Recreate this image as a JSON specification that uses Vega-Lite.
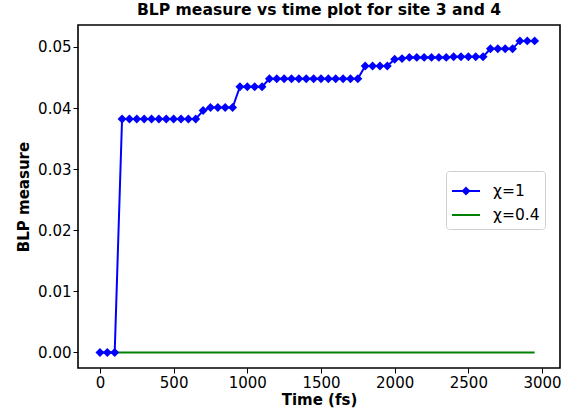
{
  "$schema": "https://vega.github.io/schema/vega-lite/v6.json",
  "width": 482,
  "height": 343,
  "autosize": {"type": "none"},
  "padding": {"left": 78, "top": 25, "right": 11, "bottom": 44},
  "background": "white",
  "config": {
    "font": "DejaVu Sans",
    "view": {"stroke": "black", "strokeWidth": 1.6},
    "axis": {"grid": false, "domain": false, "tickColor": "black", "tickSize": 5, "tickWidth": 1, "labelColor": "black", "labelFontSize": 15, "titleFontSize": 15, "titleFontWeight": "bold", "titleColor": "black", "labelFont": "DejaVu Sans", "titleFont": "DejaVu Sans"}
  },
  "title": {"text": "BLP measure vs time plot for site 3 and 4", "fontSize": 15.6, "fontWeight": "bold", "font": "DejaVu Sans", "color": "black", "offset": 6},
  "datasets": {
    "blue": [
      {"t": 0, "v": 0}, {"t": 50, "v": 0}, {"t": 100, "v": 0},
      {"t": 150, "v": 0.0382}, {"t": 200, "v": 0.0382}, {"t": 250, "v": 0.0382}, {"t": 300, "v": 0.0382}, {"t": 350, "v": 0.0382}, {"t": 400, "v": 0.0382}, {"t": 450, "v": 0.0382}, {"t": 500, "v": 0.0382}, {"t": 550, "v": 0.0382}, {"t": 600, "v": 0.0382}, {"t": 650, "v": 0.0382},
      {"t": 700, "v": 0.0396},
      {"t": 750, "v": 0.0401}, {"t": 800, "v": 0.0401}, {"t": 850, "v": 0.0401}, {"t": 900, "v": 0.0401},
      {"t": 950, "v": 0.0435}, {"t": 1000, "v": 0.0435}, {"t": 1050, "v": 0.0435}, {"t": 1100, "v": 0.0435},
      {"t": 1150, "v": 0.0448}, {"t": 1200, "v": 0.0448}, {"t": 1250, "v": 0.0448}, {"t": 1300, "v": 0.0448}, {"t": 1350, "v": 0.0448}, {"t": 1400, "v": 0.0448}, {"t": 1450, "v": 0.0448}, {"t": 1500, "v": 0.0448}, {"t": 1550, "v": 0.0448}, {"t": 1600, "v": 0.0448}, {"t": 1650, "v": 0.0448}, {"t": 1700, "v": 0.0448}, {"t": 1750, "v": 0.0448},
      {"t": 1800, "v": 0.0469}, {"t": 1850, "v": 0.0469}, {"t": 1900, "v": 0.0469}, {"t": 1950, "v": 0.0469},
      {"t": 2000, "v": 0.0480}, {"t": 2050, "v": 0.0481}, {"t": 2100, "v": 0.0483}, {"t": 2150, "v": 0.0483}, {"t": 2200, "v": 0.0483}, {"t": 2250, "v": 0.0483}, {"t": 2300, "v": 0.0483}, {"t": 2350, "v": 0.0483}, {"t": 2400, "v": 0.0484}, {"t": 2450, "v": 0.0484}, {"t": 2500, "v": 0.0484}, {"t": 2550, "v": 0.0484}, {"t": 2600, "v": 0.0484},
      {"t": 2650, "v": 0.0497}, {"t": 2700, "v": 0.0497}, {"t": 2750, "v": 0.0497}, {"t": 2800, "v": 0.0497},
      {"t": 2850, "v": 0.0510}, {"t": 2900, "v": 0.0510}, {"t": 2950, "v": 0.0510}
    ],
    "green": [
      {"t": 0, "v": 0}, {"t": 500, "v": 0}, {"t": 1000, "v": 0}, {"t": 1500, "v": 0}, {"t": 2000, "v": 0}, {"t": 2500, "v": 0}, {"t": 2950, "v": 0}
    ]
  },
  "encoding": {
    "x": {"field": "t", "type": "quantitative", "title": "Time (fs)", "scale": {"domain": [-149, 3122], "nice": false, "zero": false}, "axis": {"values": [0, 500, 1000, 1500, 2000, 2500, 3000], "format": "d", "titlePadding": 2}},
    "y": {"field": "v", "type": "quantitative", "title": "BLP measure", "scale": {"domain": [-0.00254, 0.0536], "nice": false, "zero": false}, "axis": {"values": [0, 0.01, 0.02, 0.03, 0.04, 0.05], "format": ".2f", "titlePadding": 6}}
  },
  "layer": [
    {
      "data": {"name": "green"},
      "transform": [{"calculate": "'χ=0.4'", "as": "series"}],
      "mark": {"type": "line", "strokeWidth": 2, "clip": true},
      "encoding": {
        "color": {"field": "series", "type": "nominal", "scale": {"domain": ["χ=1", "χ=0.4"], "range": ["#0000ff", "#008000"]},
          "legend": {"title": null, "orient": "none", "legendX": 368, "legendY": 146, "labelFontSize": 15.5, "labelFont": "DejaVu Sans", "labelColor": "black", "symbolType": "M-1,0H1", "symbolSize": 784, "symbolStrokeWidth": 2, "rowPadding": 0, "padding": 5, "strokeColor": "#d0d0d0", "fillColor": "white", "cornerRadius": 3, "labelOffset": 12,
            "encode": {"symbols": {"update": {
              "shape": {"signal": "datum.value === 'χ=1' ? 'M-1,0H1M0,-0.22L0.22,0L0,0.22L-0.22,0Z' : 'M-1,0H1'"},
              "fill": {"signal": "datum.value === 'χ=1' ? '#0000ff' : 'transparent'"},
              "fillOpacity": {"value": 1}
            }}}
          }
        }
      }
    },
    {
      "data": {"name": "blue"},
      "transform": [{"calculate": "'χ=1'", "as": "series"}],
      "mark": {"type": "line", "strokeWidth": 2, "point": {"shape": "diamond", "size": 80, "filled": true, "color": "#0000ff", "opacity": 1}},
      "encoding": {
        "color": {"field": "series", "type": "nominal"}
      }
    }
  ]
}
